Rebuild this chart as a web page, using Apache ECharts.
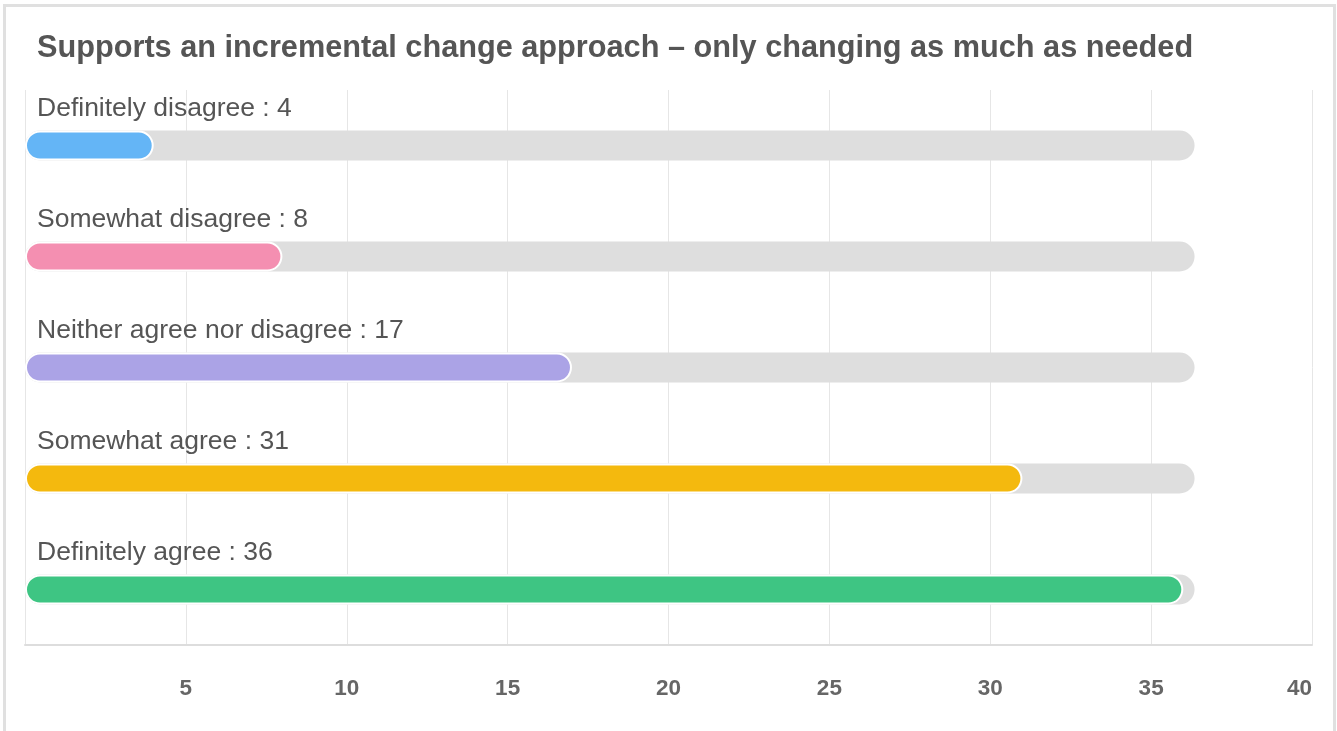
<!DOCTYPE html>
<html>
<head>
<meta charset="utf-8">
<script src="https://cdn.jsdelivr.net/npm/echarts@6/dist/echarts.min.js"></script>
<style>
html,body{margin:0;padding:0;background:#fff;overflow:hidden;}
#frame{position:absolute;left:3px;top:4px;width:1333px;height:800px;border:3px solid #e0e0e0;box-sizing:border-box;}
#chart{position:absolute;left:0;top:0;width:1337px;height:731px;}
</style>
</head>
<body>
<div id="frame"></div>
<div id="chart"></div>
<script>
const titleText = 'Supports an incremental change approach \u2013 only changing as much as needed';
const categories = ['Definitely disagree', 'Somewhat disagree', 'Neither agree nor disagree', 'Somewhat agree', 'Definitely agree'];
const values = [4, 8, 17, 31, 36];
const trackValues = [36.35, 36.35, 36.35, 36.35, 36.35];
const barColors = ['#64b5f6', '#f48fb1', '#aba3e6', '#f4b90e', '#3ec583'];
const xTicks = [0, 5, 10, 15, 20, 25, 30, 35, 40];

const chart = echarts.init(document.getElementById('chart'), null, {renderer: 'canvas'});
chart.setOption({
  animation: false,
  title: {
    text: titleText,
    left: 32,
    top: 28,
    textStyle: {fontFamily: 'Liberation Sans, Arial, sans-serif', fontSize: 30.7, fontWeight: 'bold', color: '#555555'}
  },
  grid: {left: 25, right: 25, top: 90, bottom: 86, containLabel: false},
  xAxis: {
    type: 'value',
    min: xTicks[0],
    max: xTicks[xTicks.length - 1],
    interval: 5,
    axisLine: {show: true, lineStyle: {color: '#dddddd', width: 2}},
    axisTick: {show: false},
    splitLine: {show: true, lineStyle: {color: '#e6e6e6', width: 1}},
    axisLabel: {
      margin: 32,
      alignMaxLabel: 'right',
      fontFamily: 'Liberation Sans, Arial, sans-serif',
      fontSize: 22.5,
      fontWeight: 'bold',
      color: '#666666',
      formatter: v => (v === 0 ? '' : String(v))
    }
  },
  yAxis: {
    type: 'category',
    data: categories,
    inverse: true,
    axisLine: {show: false},
    axisTick: {show: false},
    axisLabel: {show: false},
    splitLine: {show: false}
  },
  series: [
    {
      type: 'bar',
      data: trackValues,
      barWidth: 30,
      barGap: '-100%',
      silent: true,
      z: 1,
      itemStyle: {color: '#dedede', borderRadius: 15},
      label: {
        show: true,
        position: [12, -22],
        verticalAlign: 'middle',
        align: 'left',
        fontFamily: 'Liberation Sans, Arial, sans-serif',
        fontSize: 26.5,
        color: '#555555',
        formatter: p => categories[p.dataIndex] + ' : ' + values[p.dataIndex]
      }
    },
    {
      type: 'bar',
      data: values.map((v, i) => ({value: v, itemStyle: {color: barColors[i]}})),
      barWidth: 30,
      barGap: '-100%',
      z: 2,
      itemStyle: {borderRadius: 15, borderColor: '#ffffff', borderWidth: 2}
    }
  ]
});
</script>
</body>
</html>
